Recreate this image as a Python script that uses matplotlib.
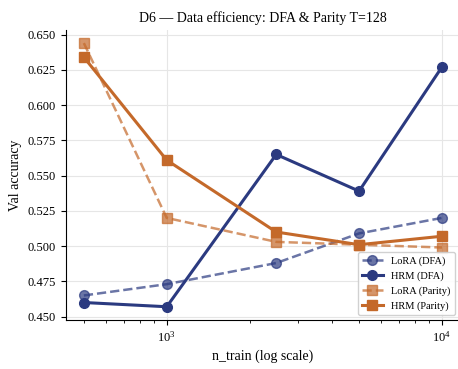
import matplotlib
matplotlib.use("Agg")
import matplotlib.pyplot as plt

plt.rcParams["font.family"] = ["Liberation Serif", "DejaVu Serif"]

n_train = [500, 1000, 2500, 5000, 10000]
lora_dfa = [0.465, 0.473, 0.488, 0.509, 0.520]
hrm_dfa = [0.460, 0.457, 0.565, 0.539, 0.627]
lora_parity = [0.644, 0.520, 0.503, 0.501, 0.499]
hrm_parity = [0.634, 0.561, 0.510, 0.501, 0.507]

navy = "#2b3a80"
orange = "#c4692a"

fig = plt.figure(figsize=(4.58, 3.69), dpi=100)
ax = fig.add_axes([0.144, 0.133, 0.86, 0.786])

ax.plot(n_train, lora_dfa, "o--", color=navy, alpha=0.7, lw=1.8, ms=7, label="LoRA (DFA)")
ax.plot(n_train, hrm_dfa, "o-", color=navy, lw=2.2, ms=7, label="HRM (DFA)")
ax.plot(n_train, lora_parity, "s--", color=orange, alpha=0.7, lw=1.8, ms=7, label="LoRA (Parity)")
ax.plot(n_train, hrm_parity, "s-", color=orange, lw=2.2, ms=7, label="HRM (Parity)")

ax.set_xscale("log")
ax.set_xlabel("n_train (log scale)", fontsize=10)
ax.set_ylabel("Val accuracy", fontsize=10)
ax.set_title("D6 — Data efficiency: DFA & Parity T=128", fontsize=10)
ax.yaxis.set_major_formatter(matplotlib.ticker.FormatStrFormatter("%.3f"))
ax.set_yticks([0.450, 0.475, 0.500, 0.525, 0.550, 0.575, 0.600, 0.625, 0.650])
ax.tick_params(labelsize=9)
ax.grid(True, color="#e6e6e6", lw=0.8)
ax.set_axisbelow(True)
for s in ["top", "right"]:
    ax.spines[s].set_visible(False)
ax.legend(loc="lower right", fontsize=7.5, framealpha=0.9)

fig.savefig("out.png", dpi=100)
